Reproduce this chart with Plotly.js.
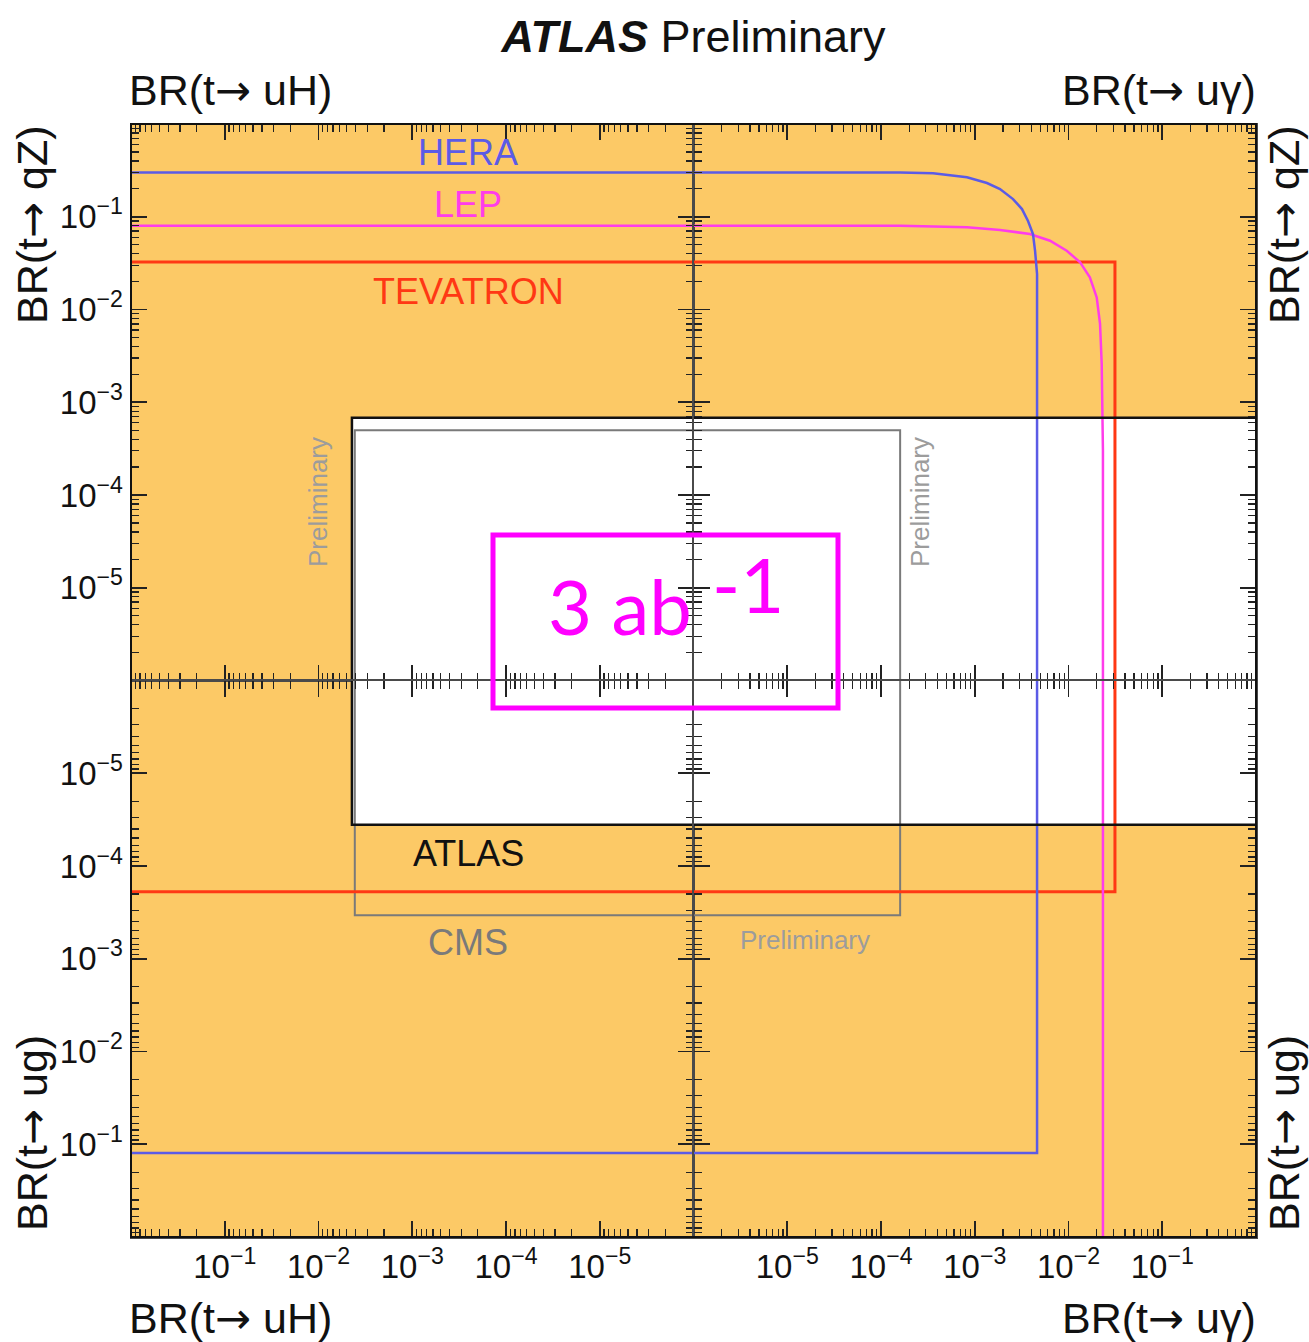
<!DOCTYPE html>
<html><head><meta charset="utf-8">
<script src="https://cdn.plot.ly/plotly-3.0.1.min.js"></script>
<style>html,body{margin:0;padding:0;background:#fff}</style>
</head><body><div id="chart" style="width:1309px;height:1342px"></div>
<script>
// ---------------- data ----------------
const experiments = ['HERA', 'LEP', 'TEVATRON', 'ATLAS', 'CMS'];
const AXIS_MIN = 1e-6;          // centre of the cross
const NO_LIMIT = 10;            // limit outside the plotted range
// observed upper limits on the branching ratios
const limit_uH = [NO_LIMIT, NO_LIMIT, NO_LIMIT, 4.4e-3, 4.1e-3];
const limit_qZ = [0.30, 0.080, 0.0325, 6.8e-4, 5.0e-4];
const limit_uy = [4.62e-3, 2.33e-2, 0.0313, NO_LIMIT, 1.6e-4];
const limit_ug = [0.124, NO_LIMIT, 1.9e-4, 3.6e-5, 3.4e-4];
// combined BR(t->uγ) vs BR(t->qZ) contours (top-right panel)
const hera_uy = [1e-6, 1.6e-4, 3.59e-4, 8.26e-4, 1.35e-3, 1.86e-3, 2.56e-3, 3.19e-3, 3.70e-3, 4.18e-3, 4.40e-3, 4.62e-3, 4.62e-3];
const hera_qZ = [0.30, 0.30, 0.294, 0.266, 0.231, 0.199, 0.155, 0.121, 0.090, 0.065, 0.0428, 0.0241, 1e-6];
const lep_uy = [1e-6, 1.6e-4, 8.26e-4, 1.86e-3, 3.88e-3, 6.35e-3, 9.57e-3, 1.33e-2, 1.69e-2, 2.00e-2, 2.17e-2, 2.26e-2, 2.33e-2, 2.33e-2];
const lep_qZ = [0.080, 0.080, 0.0769, 0.0720, 0.0652, 0.0552, 0.0430, 0.0323, 0.0222, 0.0135, 0.0070, 0.0026, 3e-4, 1e-6];
// tick labels
const majorVals = [1e-1, 1e-2, 1e-3, 1e-4, 1e-5];
const majorText = ['10<sup>−1</sup>', '10<sup>−2</sup>', '10<sup>−3</sup>', '10<sup>−4</sup>', '10<sup>−5</sup>'];
const contours = {HERA: [hera_uy, hera_qZ], LEP: [lep_uy, lep_qZ]};

// ---------------- styles ----------------
const colors = {HERA: '#5b5be6', LEP: '#ff3cea', TEVATRON: '#ff3814', ATLAS: '#111111', CMS: '#7a7a7a'};
const widths = {HERA: 2.5, LEP: 2.5, TEVATRON: 3, ATLAS: 2.5, CMS: 2};
const drawOrder = ['CMS', 'TEVATRON', 'LEP', 'HERA', 'ATLAS'];
const ORANGE = '#fcc966';

const minorVals = [];
for (let n = -6; n <= -1; n++) for (let k = 2; k <= 9; k++) minorVals.push(k * Math.pow(10, n));

const quads = [
  {xa: 'x', ya: 'y', xl: limit_uH, yl: limit_qZ, tr: false},
  {xa: 'x2', ya: 'y2', xl: limit_uy, yl: limit_qZ, tr: true},
  {xa: 'x3', ya: 'y3', xl: limit_uH, yl: limit_ug, tr: false},
  {xa: 'x4', ya: 'y4', xl: limit_uy, yl: limit_ug, tr: false}
];

const traces = [];
const iAtlas = experiments.indexOf('ATLAS');
quads.forEach(q => {
  const a = q.xl[iAtlas], b = q.yl[iAtlas];
  traces.push({x: [AXIS_MIN, a, a, AXIS_MIN, AXIS_MIN], y: [AXIS_MIN, AXIS_MIN, b, b, AXIS_MIN],
    xaxis: q.xa, yaxis: q.ya, type: 'scatter', mode: 'lines', fill: 'toself', fillcolor: '#ffffff',
    line: {width: 0, color: 'rgba(0,0,0,0)'}, hoverinfo: 'skip', showlegend: false});
});
quads.forEach(q => {
  drawOrder.forEach(name => {
    const i = experiments.indexOf(name);
    let xs, ys;
    if (q.tr && contours[name]) { xs = contours[name][0]; ys = contours[name][1]; }
    else { xs = [AXIS_MIN, q.xl[i], q.xl[i]]; ys = [q.yl[i], q.yl[i], AXIS_MIN]; }
    traces.push({x: xs, y: ys, xaxis: q.xa, yaxis: q.ya, type: 'scatter', mode: 'lines',
      line: {color: colors[name], width: widths[name]}, name: name, showlegend: false, hoverinfo: 'skip'});
  });
});

const FONT = 'Liberation Sans, Arial, Helvetica, sans-serif';
function ax(extra) {
  return Object.assign({
    type: 'log', showgrid: false, zeroline: false, showline: true, linecolor: '#4a4a4a', linewidth: 1.5,
    mirror: 'ticks', ticks: 'inside', ticklen: 16, tickwidth: 1.6, tickcolor: '#222',
    tickmode: 'array', tickvals: majorVals, ticktext: majorText,
    tickfont: {family: FONT, size: 33, color: '#111'},
    minor: {ticks: 'inside', ticklen: 8, tickwidth: 1.3, tickcolor: '#222', tickmode: 'array', tickvals: minorVals, showgrid: false},
    fixedrange: true
  }, extra);
}

const px2x = p => (p - 131) / 1125;
const px2y = p => 1 - (p - 124) / 1113;

const layout = {
  width: 1309, height: 1342,
  margin: {l: 131, r: 53, t: 124, b: 105},
  paper_bgcolor: '#ffffff', plot_bgcolor: ORANGE,
  showlegend: false,
  title: {text: '<b><i>ATLAS</i></b> Preliminary', font: {family: FONT, size: 45, color: '#111'},
    x: 0.5, xref: 'paper', xanchor: 'center', y: 1 - 36 / 1342, yref: 'container', yanchor: 'middle'},
  xaxis: ax({domain: [0, 0.5], range: [0, -6], anchor: 'y', showticklabels: false}),
  yaxis: ax({domain: [0.5, 1], range: [-6, 0], anchor: 'x'}),
  xaxis2: ax({domain: [0.5, 1], range: [-6, 0], anchor: 'y2', showticklabels: false}),
  yaxis2: ax({domain: [0.5, 1], range: [-6, 0], anchor: 'x2', showticklabels: false}),
  xaxis3: ax({domain: [0, 0.5], range: [0, -6], anchor: 'y3'}),
  yaxis3: ax({domain: [0, 0.5], range: [0, -6], anchor: 'x3'}),
  xaxis4: ax({domain: [0.5, 1], range: [-6, 0], anchor: 'y4'}),
  yaxis4: ax({domain: [0, 0.5], range: [0, -6], anchor: 'x4', showticklabels: false}),
  shapes: [
    {type: 'rect', xref: 'paper', yref: 'paper', x0: 0, x1: 1, y0: 0, y1: 1, line: {color: '#111', width: 2}, layer: 'above'},
    {type: 'rect', xref: 'paper', yref: 'paper', x0: px2x(493), x1: px2x(838), y0: px2y(708), y1: px2y(535), line: {color: '#ff00ff', width: 5}, layer: 'above'}
  ],
  annotations: []
};

const A = layout.annotations;
function note(text, x, y, opts) {
  A.push(Object.assign({text: text, xref: 'paper', yref: 'paper', x: x, y: y, showarrow: false,
    xanchor: 'center', yanchor: 'middle', font: {family: FONT, size: 36, color: '#111'}}, opts || {}));
}
// axis titles
const ARROW = '<span style="font-family:DejaVu Sans">→</span>';
const tFont = {family: FONT, size: 43, color: '#111'};
note('BR(t' + ARROW + ' uH)', 0, px2y(90), {xanchor: 'left', xshift: -4, font: tFont});
note('BR(t' + ARROW + ' uγ)', 1, px2y(90), {xanchor: 'right', xshift: 2, font: tFont});
note('BR(t' + ARROW + ' uH)', 0, px2y(1318), {xanchor: 'left', xshift: -4, font: tFont});
note('BR(t' + ARROW + ' uγ)', 1, px2y(1318), {xanchor: 'right', xshift: 2, font: tFont});
note('BR(t' + ARROW + ' qZ)', px2x(32), px2y(225), {textangle: -90, font: tFont});
note('BR(t' + ARROW + ' ug)', px2x(32), px2y(1133), {textangle: -90, font: tFont});
note('BR(t' + ARROW + ' qZ)', px2x(1284), px2y(225), {textangle: -90, font: tFont});
note('BR(t' + ARROW + ' ug)', px2x(1284), px2y(1133), {textangle: -90, font: tFont});
// experiment labels
note('HERA', px2x(468), px2y(152), {font: {family: FONT, size: 36, color: colors.HERA}});
note('LEP', px2x(468), px2y(204), {font: {family: FONT, size: 36, color: colors.LEP}});
note('TEVATRON', px2x(468), px2y(291), {font: {family: FONT, size: 36, color: colors.TEVATRON}});
note('ATLAS', px2x(468), px2y(853), {font: {family: FONT, size: 36, color: '#111'}});
note('CMS', px2x(468), px2y(943), {font: {family: FONT, size: 36, color: colors.CMS}});
// Preliminary marks
const pFont = {family: FONT, size: 26, color: '#9c9c9c'};
note('Preliminary', px2x(318), px2y(502), {textangle: -90, font: pFont});
note('Preliminary', px2x(920), px2y(502), {textangle: -90, font: pFont});
note('Preliminary', px2x(805), px2y(940), {font: pFont});
// luminosity label
const lFont = {family: 'Lato, Noto Sans, sans-serif', size: 76, color: '#ff00ff'};
note('3 ab', px2x(546), px2y(605), {xanchor: 'left', font: lFont});
note('-1', px2x(710), px2y(583), {xanchor: 'left', font: lFont});

Plotly.newPlot('chart', traces, layout, {displayModeBar: false, staticPlot: true});
</script>
</body></html>
